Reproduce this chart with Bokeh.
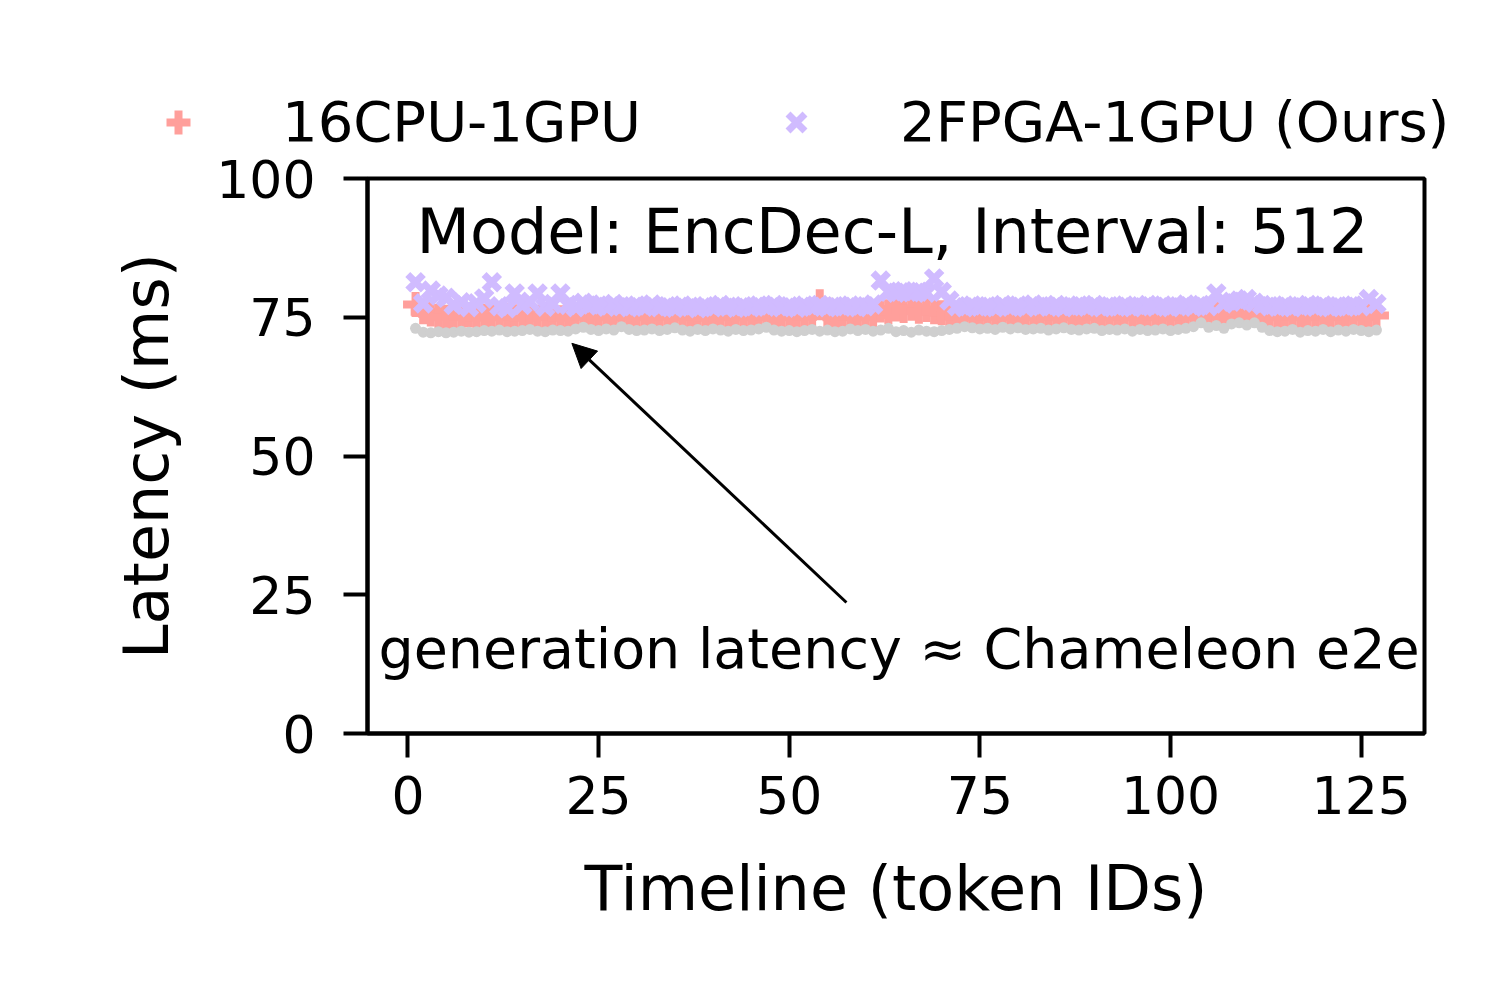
from bokeh.plotting import figure
from bokeh.layouts import column
from bokeh.models import (Range1d, FixedTicker, Legend, LegendItem, Label, Arrow,
                          NormalHead, ColumnDataSource)
from bokeh.embed import file_html
from bokeh.resources import INLINE

tokens = list(range(1, 128))

chameleon_e2e = [
    73.0, 72.3, 72.2, 72.4, 72.2, 72.3, 72.5, 72.3, 72.4, 72.6,
    72.5, 72.7, 72.4, 72.5, 72.6, 72.8, 72.5, 72.4, 72.7, 72.6,
    72.5, 72.9, 73.2, 72.8, 72.6, 72.9, 72.7, 73.3, 72.8, 72.6,
    72.7, 72.9, 72.6, 72.8, 73.1, 72.7, 72.5, 72.8, 72.6, 72.9,
    72.7, 72.5, 72.8, 72.6, 72.7, 72.9, 73.2, 72.7, 72.5, 72.6,
    72.4, 72.6, 72.8, 72.5, 72.7, 72.4, 72.5, 72.9, 72.6, 72.8,
    72.5, 72.7, 73.0, 72.4, 72.6, 72.3, 72.7, 72.5, 72.4, 72.6,
    72.8, 73.0, 73.3, 73.1, 72.9, 73.0, 72.8, 73.2, 72.9, 73.1,
    72.8, 72.9, 73.0, 72.7, 72.9, 73.1, 72.8, 72.7, 72.9, 73.0,
    72.6, 72.8, 72.7, 72.9, 72.5, 72.8, 72.6, 72.7, 72.9, 72.6,
    72.8, 73.0, 73.3, 74.0, 73.2, 73.5, 73.0, 73.8, 74.0, 73.6,
    74.0, 73.2, 72.6, 72.4, 72.5, 72.8, 72.3, 72.6, 72.5, 72.8,
    72.4, 72.7, 72.5, 72.8, 72.6, 72.4, 72.7]

cpu_gpu = [
    77.3, 76.0, 75.6, 75.2, 75.0, 75.3, 75.1, 75.4, 74.9, 75.2,
    75.5, 75.0, 75.3, 75.1, 74.9, 75.2, 75.0, 75.3, 75.1, 74.9,
    75.2, 75.4, 75.1, 75.6, 75.3, 75.0, 75.2, 75.5, 75.1, 75.3,
    75.0, 75.2, 75.4, 75.1, 75.3, 75.0, 75.2, 75.1, 74.9, 75.2,
    75.0, 75.3, 75.1, 75.2, 75.0, 75.3, 75.1, 75.4, 75.2, 75.0,
    75.2, 75.1, 75.3, 77.8, 75.2, 75.0, 75.3, 75.1, 75.2, 75.0,
    75.4, 76.3, 76.0, 76.5, 76.2, 76.6, 76.1, 76.4, 76.0, 75.8,
    75.3, 75.1, 75.2, 75.0, 75.3, 75.1, 75.2, 75.4, 75.0, 75.2,
    75.1, 75.3, 75.0, 75.2, 75.1, 75.3, 75.0, 75.2, 75.4, 75.1,
    75.2, 75.0, 75.3, 75.1, 75.2, 75.0, 75.3, 75.1, 75.2, 75.0,
    75.3, 75.1, 75.4, 75.6, 75.2, 75.5, 75.3, 75.6, 75.8, 75.4,
    75.6, 75.2, 75.1, 75.0, 75.2, 75.1, 75.3, 75.0, 75.2, 75.1,
    75.0, 75.2, 75.1, 75.3, 75.0, 75.4, 75.3]

fpga_gpu = [
    81.3, 77.5, 79.8, 78.9, 78.5, 77.2, 77.7, 76.8, 77.5, 78.4,
    81.3, 77.0, 76.6, 79.3, 77.2, 77.8, 79.3, 76.9, 77.4, 79.3,
    77.2, 76.8, 77.6, 77.3, 77.1, 76.9, 77.4, 77.0, 76.8, 77.1,
    76.9, 77.3, 76.8, 77.0, 76.7, 77.1, 76.9, 76.6, 77.0, 76.8,
    77.2, 76.9, 76.7, 77.0, 76.8, 77.1, 76.9, 77.2, 76.8, 77.0,
    76.7, 77.1, 76.9, 77.2, 76.8, 77.0, 76.9, 77.1, 76.8, 77.0,
    77.3, 81.6, 79.6, 79.4, 79.7, 79.5, 79.6, 79.4, 82.0, 79.6,
    78.0, 77.0, 76.8, 77.1, 76.9, 77.0, 76.8, 77.2, 76.9, 77.1,
    76.8, 77.3, 77.0, 76.9, 77.2, 76.8, 77.0, 77.1, 76.9, 77.2,
    76.8, 77.0, 76.9, 77.1, 76.8, 77.0, 77.2, 76.9, 77.1, 76.8,
    77.0, 77.3, 76.9, 77.2, 77.0, 79.3, 77.5, 77.8, 78.0, 78.3,
    77.6, 77.2, 77.0, 76.9, 77.1, 76.8, 77.0, 77.2, 76.9, 77.1,
    76.8, 77.0, 76.9, 77.1, 77.0, 78.3, 77.4]

x_ticks = [0, 25, 50, 75, 100, 125]
y_ticks = [0, 25, 50, 75, 100]
series_labels = ["16CPU-1GPU", "2FPGA-1GPU (Ours)"]
title_text = "Model: EncDec-L, Interval: 512"
note_text = "generation latency \u2248 Chameleon e2e"

FONT = "DejaVu Sans"
PINK = "#FF9F9B"
PURPLE = "#D0BBFF"
GRAY = "#CFCFCF"

W = 1484
LEG_H = 160
OVERLAP = 20
MAIN_H = 984 - LEG_H + OVERLAP

src = ColumnDataSource(dict(t=tokens, cham=chameleon_e2e, cpu=cpu_gpu, fpga=fpga_gpu))

# ---- main plot ----
p = figure(width=W, height=MAIN_H, x_range=Range1d(-5.3, 133.3), y_range=Range1d(0, 100),
           output_backend="svg", toolbar_location=None,
           min_border_left=367, min_border_right=W - 1424,
           min_border_top=178 - LEG_H + OVERLAP, min_border_bottom=984 - 733)
p.frame_align = False
p.margin = (-OVERLAP, 0, 0, 0)
p.border_fill_alpha = 0
p.xgrid.visible = False
p.ygrid.visible = False
p.outline_line_color = "black"
p.outline_line_width = 4
p.outline_line_alpha = 1

for ax in (p.xaxis[0], p.yaxis[0]):
    ax.axis_line_width = 4
    ax.major_tick_line_width = 4
    ax.major_tick_out = 24
    ax.major_tick_in = 0
    ax.minor_tick_line_color = None
    ax.major_label_text_font = FONT
    ax.major_label_text_font_size = "52px"
    ax.major_label_text_color = "black"
    ax.axis_label_text_font = FONT
    ax.axis_label_text_font_size = "62px"
    ax.axis_label_text_font_style = "normal"
    ax.axis_label_text_color = "black"

p.xaxis.ticker = FixedTicker(ticks=x_ticks)
p.yaxis.ticker = FixedTicker(ticks=y_ticks)
p.xaxis.axis_label = "Timeline (token IDs)"
p.yaxis.axis_label = "Latency (ms)"
p.xaxis.major_label_standoff = 18
p.yaxis.major_label_standoff = 28
p.xaxis.axis_label_standoff = 35
p.yaxis.axis_label_standoff = 30

r_cpu = p.scatter("t", "cpu", source=src, marker="cross", size=25, line_width=8,
                  line_color=PINK, fill_color=PINK)
r_fpga = p.scatter("t", "fpga", source=src, marker="x", size=22, line_width=7,
                   line_color=PURPLE, fill_color=PURPLE)
r_cham = p.scatter("t", "cham", source=src, marker="circle", size=11, line_color=None,
                   fill_color=GRAY)

p.add_layout(Label(x=63.55, y=90.4, text=title_text, text_font=FONT, text_font_size="62px",
                   text_align="center", text_baseline="alphabetic", text_color="black"))
p.add_layout(Label(x=64.4, y=15.3, text=note_text, text_font=FONT, text_font_size="55.5px",
                   text_align="center", text_baseline="alphabetic", text_color="black"))
p.add_layout(Arrow(end=NormalHead(size=24, fill_color="black", line_color="black"),
                   x_start=57.5, y_start=23.6, x_end=21.5, y_end=70.3,
                   line_width=3, line_color="black"))

# ---- legend strip (series drawn hidden, only for the legend keys) ----
lg = figure(width=W, height=LEG_H, x_range=Range1d(0, W), y_range=Range1d(0, LEG_H),
            output_backend="svg", toolbar_location=None,
            min_border_left=0, min_border_right=0, min_border_top=0, min_border_bottom=0)
lg.frame_align = False
lg.axis.visible = False
lg.grid.visible = False
lg.outline_line_color = None
l_cpu = lg.scatter("t", "cpu", source=src, marker="cross", size=25, line_width=8,
                   line_color=PINK, fill_color=PINK, visible=False)
l_fpga = lg.scatter("t", "fpga", source=src, marker="x", size=22, line_width=7,
                    line_color=PURPLE, fill_color=PURPLE, visible=False)
legend = Legend(items=[LegendItem(label=series_labels[0], renderers=[l_cpu]),
                       LegendItem(label=series_labels[1], renderers=[l_fpga])],
                location=(148, 6), orientation="horizontal", click_policy="none",
                glyph_width=60, glyph_height=60, label_standoff=74, spacing=125,
                padding=0, margin=0, border_line_alpha=0, background_fill_alpha=0,
                label_text_font=FONT, label_text_font_size="56px",
                label_text_color="black", label_text_baseline="middle")
lg.add_layout(legend, "center")

layout = column(lg, p, spacing=0)
open("out.html", "w").write(file_html(layout, INLINE))
